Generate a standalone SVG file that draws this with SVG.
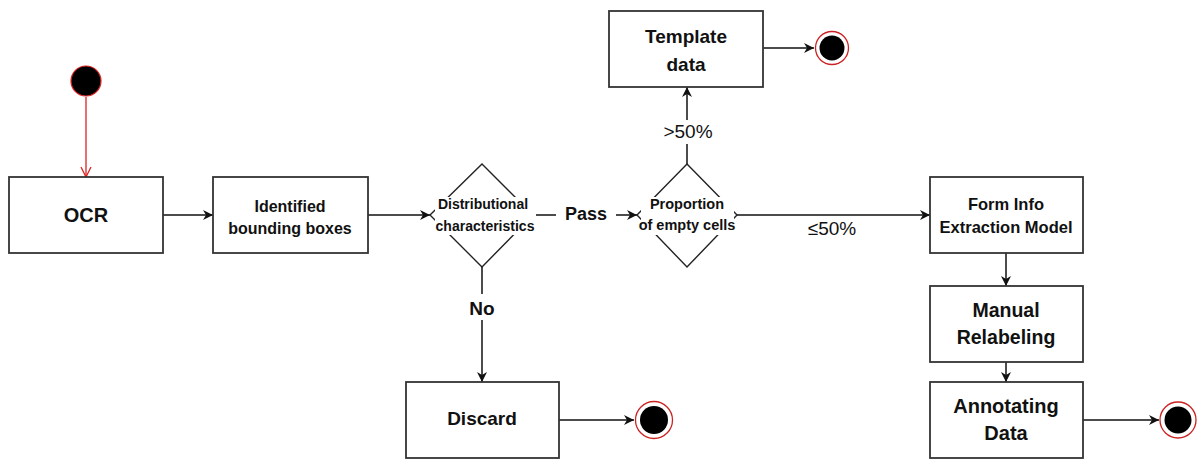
<svg xmlns="http://www.w3.org/2000/svg" width="1198" height="459" viewBox="0 0 1198 459">
<style>
.box{fill:#fff;stroke:#333;stroke-width:1.8}
.dia{fill:#fff;stroke:#222;stroke-width:1.4}
.t{font-family:"Liberation Sans",Arial,sans-serif;font-weight:bold;fill:#111;text-anchor:middle}
.r{font-family:"Liberation Sans",Arial,sans-serif;fill:#111;text-anchor:middle}
.c{fill:none;stroke:#111;stroke-width:1.5}
.lbl{fill:#fff}
</style>
<defs>
<marker id="ah" viewBox="0 0 10 10" refX="10" refY="5" markerWidth="10" markerHeight="10" markerUnits="userSpaceOnUse" orient="auto">
<path d="M0,0 L10,5 L0,10 L3,5 Z" fill="#111"/>
</marker>
<marker id="open" viewBox="0 0 12 12" refX="11" refY="6" markerWidth="12" markerHeight="12" markerUnits="userSpaceOnUse" orient="auto">
<path d="M1,1 L11,6 L1,11" fill="none" stroke="#d22" stroke-width="1.3"/>
</marker>
</defs>

<g id="connectors">
<line x1="86" y1="97" x2="86" y2="177" stroke="#d22" stroke-width="1.3" marker-end="url(#open)"/>
<line class="c" x1="163" y1="215" x2="213" y2="215" marker-end="url(#ah)"/>
<line class="c" x1="368" y1="215" x2="430" y2="215" marker-end="url(#ah)"/>
<line class="c" x1="533" y1="215" x2="637" y2="215" marker-end="url(#ah)"/>
<rect class="lbl" x="556" y="198" width="60" height="28"/>
<text class="t" x="586" y="220" font-size="18">Pass</text>
<line class="c" x1="687" y1="164" x2="687" y2="87" marker-end="url(#ah)"/>
<rect class="lbl" x="660" y="120" width="56" height="24"/>
<text class="r" x="688" y="138" font-size="19">&gt;50%</text>
<line class="c" x1="737" y1="215" x2="930" y2="215" marker-end="url(#ah)"/>
<text class="r" x="832" y="235" font-size="19">≤50%</text>
<line class="c" x1="482" y1="267" x2="482" y2="382" marker-end="url(#ah)"/>
<rect class="lbl" x="464" y="294" width="36" height="26"/>
<text class="t" x="482" y="315" font-size="19">No</text>
<line class="c" x1="763" y1="48" x2="814" y2="48" marker-end="url(#ah)"/>
<line class="c" x1="559" y1="420" x2="634" y2="420" marker-end="url(#ah)"/>
<line class="c" x1="1006" y1="253" x2="1006" y2="286" marker-end="url(#ah)"/>
<line class="c" x1="1006" y1="362" x2="1006" y2="382" marker-end="url(#ah)"/>
<line class="c" x1="1083" y1="420" x2="1159" y2="420" marker-end="url(#ah)"/>
</g>

<g id="start">
<circle cx="86" cy="81" r="15" fill="#000" stroke="#d22" stroke-width="1.2"/>
</g>

<g id="ocr">
<rect class="box" x="9" y="177" width="154" height="76"/>
<text class="t" x="86" y="222" font-size="20">OCR</text>
</g>

<g id="identified">
<rect class="box" x="213" y="177" width="155" height="76"/>
<text class="t" x="290" y="212" font-size="16">Identified</text>
<text class="t" x="290" y="234" font-size="16">bounding boxes</text>
</g>

<g id="distributional">
<polygon class="dia" points="482,164 533,215 482,267 430,215"/>
<rect class="lbl" x="435" y="197" width="101" height="38"/>
<text class="t" x="483" y="209" font-size="14">Distributional</text>
<text class="t" x="485" y="231" font-size="14">characteristics</text>
</g>

<g id="proportion">
<polygon class="dia" points="687,164 737,215 687,267 637,215"/>
<rect class="lbl" x="641" y="197" width="93" height="38"/>
<text class="t" x="687" y="209" font-size="14.5">Proportion</text>
<text class="t" x="687" y="230" font-size="14.5">of empty cells</text>
</g>

<g id="template">
<rect class="box" x="609" y="11" width="154" height="76"/>
<text class="t" x="686" y="43" font-size="19">Template</text>
<text class="t" x="686" y="71" font-size="19">data</text>
</g>

<g id="end-template">
<circle cx="832" cy="48" r="16.5" fill="#fff" stroke="#c22" stroke-width="1.3"/>
<circle cx="832" cy="48" r="12.5" fill="#000"/>
</g>

<g id="discard">
<rect class="box" x="406" y="382" width="153" height="76"/>
<text class="t" x="482" y="425" font-size="19">Discard</text>
</g>

<g id="end-discard">
<circle cx="654" cy="420" r="18.5" fill="#fff" stroke="#c22" stroke-width="1.3"/>
<circle cx="654" cy="420" r="14" fill="#000"/>
</g>

<g id="forminfo">
<rect class="box" x="930" y="177" width="153" height="76"/>
<text class="t" x="1006" y="210" font-size="16.5">Form Info</text>
<text class="t" x="1006" y="233" font-size="16.5">Extraction Model</text>
</g>

<g id="manual">
<rect class="box" x="930" y="286" width="153" height="76"/>
<text class="t" x="1006" y="317" font-size="19.5">Manual</text>
<text class="t" x="1006" y="344" font-size="19.5">Relabeling</text>
</g>

<g id="annotating">
<rect class="box" x="930" y="382" width="153" height="76"/>
<text class="t" x="1006" y="413" font-size="20">Annotating</text>
<text class="t" x="1006" y="440" font-size="20">Data</text>
</g>

<g id="end-annotating">
<circle cx="1178" cy="420" r="18" fill="#fff" stroke="#c22" stroke-width="1.3"/>
<circle cx="1178" cy="420" r="13.5" fill="#000"/>
</g>
</svg>
